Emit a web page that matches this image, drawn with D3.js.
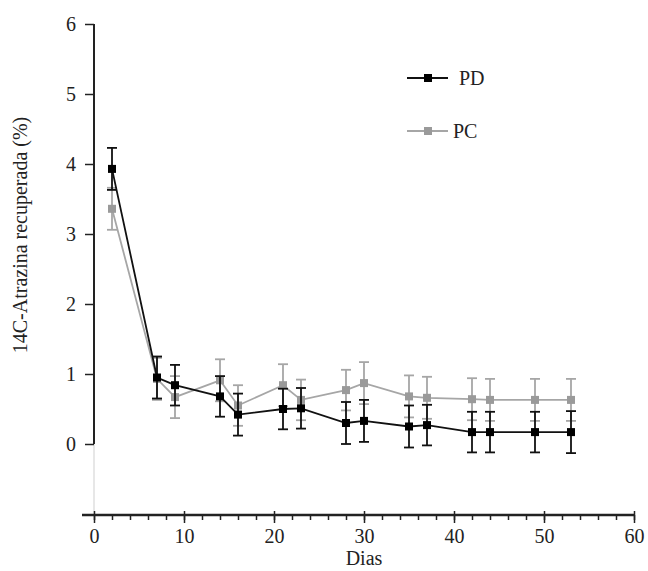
<!doctype html>
<html>
<head>
<meta charset="UTF-8">
<script src="https://d3js.org/d3.v7.min.js"></script>
<style>
  body { margin: 0; background: #fff; }
  text { font-family: "Liberation Serif", "DejaVu Serif", serif; fill: #222; }
</style>
</head>
<body>
<svg id="chart"></svg>
<script>
// data
const dias = [2, 7, 9, 14, 16, 21, 23, 28, 30, 35, 37, 42, 44, 49, 53];
const pdValues = [3.93, 0.95, 0.84, 0.68, 0.42, 0.50, 0.51, 0.30, 0.33, 0.25, 0.27, 0.17, 0.17, 0.17, 0.17];
const pdErrors = [0.30, 0.30, 0.29, 0.29, 0.30, 0.29, 0.29, 0.30, 0.30, 0.30, 0.29, 0.29, 0.29, 0.29, 0.30];
const pcValues = [3.36, 0.93, 0.67, 0.91, 0.55, 0.84, 0.63, 0.77, 0.87, 0.68, 0.66, 0.64, 0.63, 0.63, 0.63];
const pcErrors = [0.30, 0.30, 0.30, 0.30, 0.29, 0.30, 0.29, 0.29, 0.30, 0.30, 0.30, 0.30, 0.30, 0.30, 0.30];
const yTicks = [0, 1, 2, 3, 4, 5, 6];
const xTicks = [0, 10, 20, 30, 40, 50, 60];
const xMinorTicks = d3.range(0, 61, 2);

(function(){
  const W = 648, H = 571;
  const svg = d3.select("#chart").attr("width", W).attr("height", H);

  const x = d3.scaleLinear().domain([0, 60]).range([94, 634]);
  const y = d3.scaleLinear().domain([0, 6]).range([444, 24]);
  const xAxisY = 515;
  const fs = "20px";

  // faint continuation of the y axis below zero
  svg.append("line")
     .attr("x1", x(0)).attr("x2", x(0))
     .attr("y1", y(0)).attr("y2", xAxisY)
     .attr("stroke", "#cfcfcf").attr("stroke-width", 1);

  // y axis
  const yAxis = svg.append("g")
     .attr("transform", "translate(" + x(0) + ",0)")
     .call(d3.axisLeft(y).tickValues(yTicks).tickSize(9).tickPadding(9).tickFormat(d3.format("d")));
  yAxis.select(".domain").attr("d", "M0," + y(6) + "V" + y(0)).attr("stroke", "#222").attr("stroke-width", 2);
  yAxis.selectAll(".tick line").attr("stroke", "#222").attr("stroke-width", 1.5);
  yAxis.selectAll(".tick text").style("font-size", fs).attr("fill", "#222");

  // x axis
  const xAxis = svg.append("g")
     .attr("transform", "translate(0," + xAxisY + ")");
  xAxis.call(d3.axisBottom(x).tickValues(xMinorTicks).tickSize(5).tickFormat(""));
  xAxis.select(".domain").remove();
  xAxis.selectAll(".tick line").attr("stroke", "#222").attr("stroke-width", 1.5);
  const xMajor = svg.append("g")
     .attr("transform", "translate(0," + xAxisY + ")")
     .call(d3.axisBottom(x).tickValues(xTicks).tickSize(8).tickPadding(6).tickFormat(d3.format("d")));
  xMajor.select(".domain").attr("d", "M" + (x(0) - 12) + ",0H" + x(60)).attr("stroke", "#222").attr("stroke-width", 2.5);
  xMajor.selectAll(".tick line").attr("y1", -4).attr("stroke", "#222").attr("stroke-width", 1.5);
  xMajor.selectAll(".tick text").style("font-size", fs).attr("fill", "#222");

  // axis titles
  svg.append("text")
     .attr("transform", "translate(27," + 235 + ") rotate(-90)")
     .attr("text-anchor", "middle")
     .style("font-size", fs)
     .text("14C-Atrazina recuperada (%)");
  svg.append("text")
     .attr("x", 364).attr("y", 565)
     .attr("text-anchor", "middle")
     .style("font-size", fs)
     .text("Dias");

  const series = [
    {name: "PC", vals: pcValues, errs: pcErrors, color: "#a6a6a6", marker: "#9a9a9a", lw: 1.8},
    {name: "PD", vals: pdValues, errs: pdErrors, color: "#111", marker: "#000", lw: 1.8}
  ];

  const line = d3.line().x(d => x(d[0])).y(d => y(d[1]));

  series.forEach(function(s){
    const pts = dias.map((d, i) => [d, s.vals[i], s.errs[i]]);
    const g = svg.append("g");
    // error bars
    const eb = g.selectAll(".err").data(pts).enter().append("g");
    eb.append("line")
      .attr("x1", d => x(d[0])).attr("x2", d => x(d[0]))
      .attr("y1", d => y(d[1] - d[2])).attr("y2", d => y(d[1] + d[2]))
      .attr("stroke", s.color).attr("stroke-width", 1.8);
    eb.append("line")
      .attr("x1", d => x(d[0]) - 5).attr("x2", d => x(d[0]) + 5)
      .attr("y1", d => y(d[1] + d[2])).attr("y2", d => y(d[1] + d[2]))
      .attr("stroke", s.color).attr("stroke-width", 1.8);
    eb.append("line")
      .attr("x1", d => x(d[0]) - 5).attr("x2", d => x(d[0]) + 5)
      .attr("y1", d => y(d[1] - d[2])).attr("y2", d => y(d[1] - d[2]))
      .attr("stroke", s.color).attr("stroke-width", 1.8);
    // line
    g.append("path").datum(pts)
      .attr("d", line).attr("fill", "none")
      .attr("stroke", s.color).attr("stroke-width", s.lw);
    // markers
    g.selectAll(".mk").data(pts).enter().append("rect")
      .attr("x", d => x(d[0]) - 4).attr("y", d => y(d[1]) - 4)
      .attr("width", 8).attr("height", 8)
      .attr("fill", s.marker);
  });

  // legend
  const legend = [
    {name: "PD", color: "#111", marker: "#000", yy: 78, tx: 459},
    {name: "PC", color: "#a6a6a6", marker: "#9a9a9a", yy: 131, tx: 453}
  ];
  legend.forEach(function(l){
    svg.append("line").attr("x1", 407).attr("x2", 448).attr("y1", l.yy).attr("y2", l.yy)
       .attr("stroke", l.color).attr("stroke-width", 1.8);
    svg.append("rect").attr("x", 424).attr("y", l.yy - 4).attr("width", 8).attr("height", 8)
       .attr("fill", l.marker);
    svg.append("text").attr("x", l.tx).attr("y", l.yy + 7)
       .style("font-size", fs).text(l.name);
  });
})();
</script>
</body>
</html>
